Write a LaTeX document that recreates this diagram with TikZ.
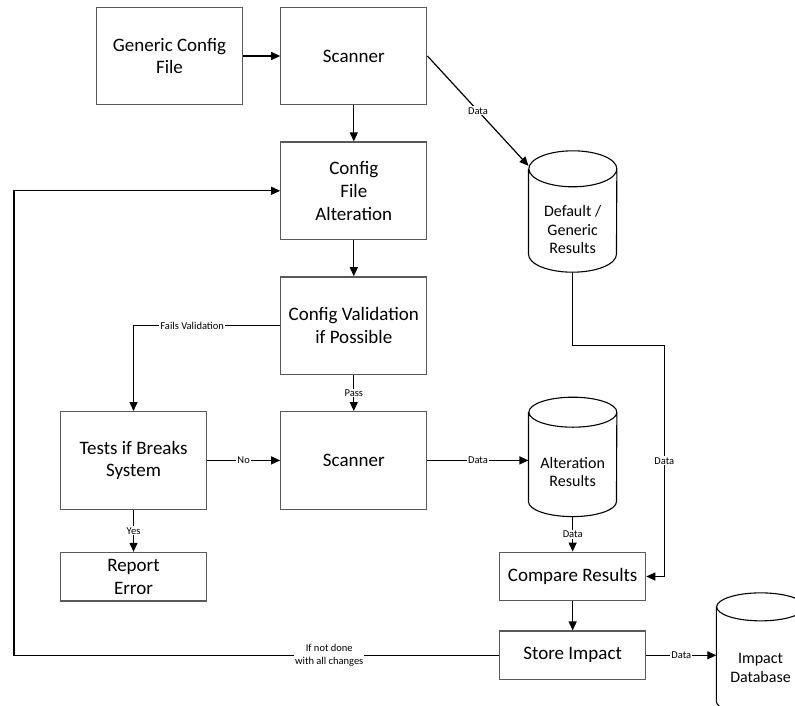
\documentclass[tikz,border=0pt]{standalone}
\usepackage{fontspec}
\setmainfont{Carlito}
\usetikzlibrary{positioning, arrows.meta}

\begin{document}
\begin{tikzpicture}[node distance=36pt,
	box/.style={draw=black!65, line width=1.3pt, minimum width=146pt, minimum height=97.5pt, align=center, font=\fontsize{19}{22.7}\selectfont},
	flat/.style={box, minimum height=48.5pt},
	db/.style={minimum width=88pt, align=center, font=\fontsize{16}{18.5}\selectfont},
	dbline/.style={draw=black, line width=1.1pt},
	flow/.style={-{Triangle[length=9pt,width=8pt]}, line width=1.2pt},
	lbl/.style={fill=white, inner sep=1pt, align=center, font=\fontsize{10.5}{13}\selectfont}]
	\useasboundingbox (0,0) rectangle (795pt,-705pt);
	\node[box] (gen) at (169.5pt,-56pt) {Generic Config\\File};
	\node[box, right=37pt of gen] (scan1) {Scanner};
	\node[box, below=of scan1] (alter) {Config\\File\\Alteration};
	\node[box, below=of alter] (valid) {Config Validation\\if Possible};
	\node[box, below=of valid] (scan2) {Scanner};
	\node[box, left=73pt of scan2] (tests) {Tests if Breaks\\System};
	\node[flat, below=42pt of tests] (report) {Report\\Error};
	% databases: node is the body below the top ellipse
	\node[db, minimum height=89pt, right=101pt of scan2, yshift=-11.5pt] (altres) {Alteration\\Results};
	\node[db, minimum height=85pt, above=155pt of altres] (defres) {Default /\\Generic\\Results};
	\node[flat, below=35pt of altres] (compare) {Compare Results};
	\node[flat, below=29pt of compare] (store) {Store Impact};
	\node[db, minimum height=94pt, right=70pt of store, yshift=-12.75pt] (impact) {Impact\\Database};
	\foreach \n/\r in {defres/18, altres/15, impact/14}
		\draw[dbline] ([yshift=\r pt]\n.north west) -- ([yshift=\r pt]\n.south west)
		arc[start angle=180, end angle=360, x radius=44pt, y radius=\r pt]
		-- ([yshift=\r pt]\n.north east)
		arc[start angle=0, end angle=360, x radius=44pt, y radius=\r pt];
	\draw
	(gen) edge[flow] (scan1)
	(scan1) edge[flow] (alter)
	(alter) edge[flow] (valid)
	(scan1.east) edge[flow] node[lbl] {Data} ([yshift=21pt]defres.north west)
	(valid) edge[flow] node[lbl] {Pass} (scan2)
	(tests) edge[flow] node[lbl] {No} (scan2)
	(tests) edge[flow] node[lbl] {Yes} (report)
	(scan2) edge[flow] node[lbl] {Data} (scan2 -| altres.west)
	(altres) edge[flow] node[lbl] {Data} (compare)
	(compare) edge[flow] (store)
	(store) edge[flow] node[lbl] {Data} (store -| impact.west);
	\draw[flow] (valid.west) -| node[lbl, pos=0.3] {Fails Validation} (tests.north);
	\draw[flow] (defres.south) -- ++(0,-73pt) -| node[lbl, pos=0.75] {Data} ([xshift=18pt]compare.east) -- (compare.east);
	\draw[flow] (store.west) -- node[lbl, pos=0.35] {If not done\\with all changes} ++(-485pt,0) |- (alter.west);
\end{tikzpicture}
\end{document}
